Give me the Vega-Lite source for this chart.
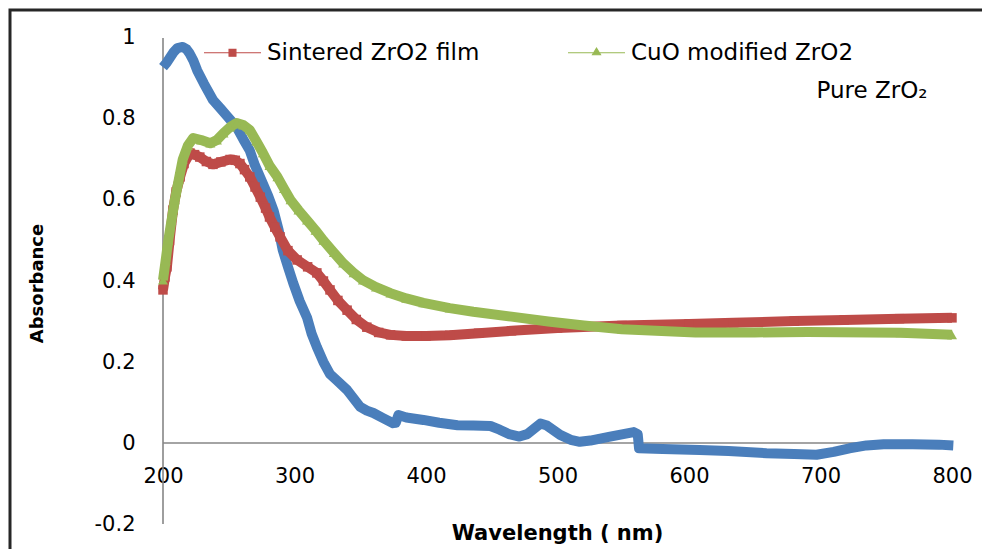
{
  "$schema": "https://vega.github.io/schema/vega-lite/v6.json",
  "width": 980,
  "height": 545,
  "autosize": {"type": "none"},
  "padding": {"left": 10, "top": 10, "right": 0, "bottom": 0},
  "background": "white",
  "config": {
    "view": {"stroke": "#262626", "strokeWidth": 3},
    "font": "DejaVu Sans",
    "legend": {
      "orient": "none",
      "legendX": 193,
      "legendY": 13,
      "direction": "horizontal",
      "columnPadding": 85,
      "symbolSize": 3249,
      "symbolStrokeWidth": 1.2,
      "labelOffset": 5,
      "labelFont": "DejaVu Sans",
      "labelFontSize": 23,
      "labelColor": "#000",
      "labelLimit": 400,
      "padding": 0,
      "title": null
    }
  },
  "datasets": {
    "spectra": [
      {"s": "Pure ZrO2", "wl": 200, "a": 0.928}, {"s": "Pure ZrO2", "wl": 203, "a": 0.94}, {"s": "Pure ZrO2", "wl": 205, "a": 0.95}, {"s": "Pure ZrO2", "wl": 208, "a": 0.965}, {"s": "Pure ZrO2", "wl": 211, "a": 0.975}, {"s": "Pure ZrO2", "wl": 215, "a": 0.978}, {"s": "Pure ZrO2", "wl": 218, "a": 0.972}, {"s": "Pure ZrO2", "wl": 220, "a": 0.963}, {"s": "Pure ZrO2", "wl": 223, "a": 0.945}, {"s": "Pure ZrO2", "wl": 226, "a": 0.92}, {"s": "Pure ZrO2", "wl": 231, "a": 0.888}, {"s": "Pure ZrO2", "wl": 238, "a": 0.847}, {"s": "Pure ZrO2", "wl": 244, "a": 0.825}, {"s": "Pure ZrO2", "wl": 249, "a": 0.806}, {"s": "Pure ZrO2", "wl": 256, "a": 0.78}, {"s": "Pure ZrO2", "wl": 261, "a": 0.75}, {"s": "Pure ZrO2", "wl": 266, "a": 0.722}, {"s": "Pure ZrO2", "wl": 270, "a": 0.685}, {"s": "Pure ZrO2", "wl": 276, "a": 0.64}, {"s": "Pure ZrO2", "wl": 280, "a": 0.61}, {"s": "Pure ZrO2", "wl": 284, "a": 0.575}, {"s": "Pure ZrO2", "wl": 288, "a": 0.525}, {"s": "Pure ZrO2", "wl": 291, "a": 0.477}, {"s": "Pure ZrO2", "wl": 295, "a": 0.435}, {"s": "Pure ZrO2", "wl": 299, "a": 0.395}, {"s": "Pure ZrO2", "wl": 304, "a": 0.35}, {"s": "Pure ZrO2", "wl": 309.5, "a": 0.31}, {"s": "Pure ZrO2", "wl": 313, "a": 0.27}, {"s": "Pure ZrO2", "wl": 317, "a": 0.237}, {"s": "Pure ZrO2", "wl": 322, "a": 0.2}, {"s": "Pure ZrO2", "wl": 327, "a": 0.17}, {"s": "Pure ZrO2", "wl": 333, "a": 0.152}, {"s": "Pure ZrO2", "wl": 340, "a": 0.131}, {"s": "Pure ZrO2", "wl": 345, "a": 0.11}, {"s": "Pure ZrO2", "wl": 350, "a": 0.089}, {"s": "Pure ZrO2", "wl": 355, "a": 0.08}, {"s": "Pure ZrO2", "wl": 360, "a": 0.074}, {"s": "Pure ZrO2", "wl": 367, "a": 0.062}, {"s": "Pure ZrO2", "wl": 375, "a": 0.049}, {"s": "Pure ZrO2", "wl": 377, "a": 0.05}, {"s": "Pure ZrO2", "wl": 379, "a": 0.069}, {"s": "Pure ZrO2", "wl": 385, "a": 0.063}, {"s": "Pure ZrO2", "wl": 398, "a": 0.057}, {"s": "Pure ZrO2", "wl": 410, "a": 0.05}, {"s": "Pure ZrO2", "wl": 424, "a": 0.044}, {"s": "Pure ZrO2", "wl": 436, "a": 0.043}, {"s": "Pure ZrO2", "wl": 449, "a": 0.042}, {"s": "Pure ZrO2", "wl": 456, "a": 0.033}, {"s": "Pure ZrO2", "wl": 463, "a": 0.022}, {"s": "Pure ZrO2", "wl": 471, "a": 0.016}, {"s": "Pure ZrO2", "wl": 477, "a": 0.022}, {"s": "Pure ZrO2", "wl": 482, "a": 0.035}, {"s": "Pure ZrO2", "wl": 487, "a": 0.048}, {"s": "Pure ZrO2", "wl": 492, "a": 0.043}, {"s": "Pure ZrO2", "wl": 502, "a": 0.02}, {"s": "Pure ZrO2", "wl": 510, "a": 0.008}, {"s": "Pure ZrO2", "wl": 517, "a": 0.003}, {"s": "Pure ZrO2", "wl": 525, "a": 0.006}, {"s": "Pure ZrO2", "wl": 540, "a": 0.016}, {"s": "Pure ZrO2", "wl": 550, "a": 0.022}, {"s": "Pure ZrO2", "wl": 558, "a": 0.027}, {"s": "Pure ZrO2", "wl": 561, "a": 0.022}, {"s": "Pure ZrO2", "wl": 562, "a": -0.013}, {"s": "Pure ZrO2", "wl": 580, "a": -0.015}, {"s": "Pure ZrO2", "wl": 608, "a": -0.017}, {"s": "Pure ZrO2", "wl": 630, "a": -0.02}, {"s": "Pure ZrO2", "wl": 659, "a": -0.025}, {"s": "Pure ZrO2", "wl": 680, "a": -0.027}, {"s": "Pure ZrO2", "wl": 697, "a": -0.029}, {"s": "Pure ZrO2", "wl": 710, "a": -0.022}, {"s": "Pure ZrO2", "wl": 722, "a": -0.013}, {"s": "Pure ZrO2", "wl": 735, "a": -0.006}, {"s": "Pure ZrO2", "wl": 748, "a": -0.003}, {"s": "Pure ZrO2", "wl": 770, "a": -0.003}, {"s": "Pure ZrO2", "wl": 790, "a": -0.004}, {"s": "Pure ZrO2", "wl": 801, "a": -0.006},

      {"s": "Sintered ZrO2 film", "wl": 200, "a": 0.378}, {"s": "Sintered ZrO2 film", "wl": 201.5, "a": 0.41}, {"s": "Sintered ZrO2 film", "wl": 203, "a": 0.435}, {"s": "Sintered ZrO2 film", "wl": 205, "a": 0.5}, {"s": "Sintered ZrO2 film", "wl": 207.6, "a": 0.575}, {"s": "Sintered ZrO2 film", "wl": 210, "a": 0.62}, {"s": "Sintered ZrO2 film", "wl": 213, "a": 0.657}, {"s": "Sintered ZrO2 film", "wl": 216, "a": 0.69}, {"s": "Sintered ZrO2 film", "wl": 220.5, "a": 0.716}, {"s": "Sintered ZrO2 film", "wl": 224, "a": 0.712}, {"s": "Sintered ZrO2 film", "wl": 228, "a": 0.706}, {"s": "Sintered ZrO2 film", "wl": 233, "a": 0.695}, {"s": "Sintered ZrO2 film", "wl": 238, "a": 0.688}, {"s": "Sintered ZrO2 film", "wl": 244, "a": 0.694}, {"s": "Sintered ZrO2 film", "wl": 251, "a": 0.7}, {"s": "Sintered ZrO2 film", "wl": 255, "a": 0.698}, {"s": "Sintered ZrO2 film", "wl": 258.5, "a": 0.69}, {"s": "Sintered ZrO2 film", "wl": 262, "a": 0.675}, {"s": "Sintered ZrO2 film", "wl": 266, "a": 0.657}, {"s": "Sintered ZrO2 film", "wl": 270, "a": 0.632}, {"s": "Sintered ZrO2 film", "wl": 274, "a": 0.607}, {"s": "Sintered ZrO2 film", "wl": 278, "a": 0.58}, {"s": "Sintered ZrO2 film", "wl": 281, "a": 0.558}, {"s": "Sintered ZrO2 film", "wl": 285, "a": 0.533}, {"s": "Sintered ZrO2 film", "wl": 289, "a": 0.509}, {"s": "Sintered ZrO2 film", "wl": 295, "a": 0.475}, {"s": "Sintered ZrO2 film", "wl": 302, "a": 0.452}, {"s": "Sintered ZrO2 film", "wl": 310, "a": 0.435}, {"s": "Sintered ZrO2 film", "wl": 317, "a": 0.42}, {"s": "Sintered ZrO2 film", "wl": 322, "a": 0.4}, {"s": "Sintered ZrO2 film", "wl": 327, "a": 0.378}, {"s": "Sintered ZrO2 film", "wl": 333, "a": 0.352}, {"s": "Sintered ZrO2 film", "wl": 340, "a": 0.328}, {"s": "Sintered ZrO2 film", "wl": 347, "a": 0.305}, {"s": "Sintered ZrO2 film", "wl": 355, "a": 0.286}, {"s": "Sintered ZrO2 film", "wl": 364, "a": 0.273}, {"s": "Sintered ZrO2 film", "wl": 373, "a": 0.267}, {"s": "Sintered ZrO2 film", "wl": 385, "a": 0.264}, {"s": "Sintered ZrO2 film", "wl": 400, "a": 0.264}, {"s": "Sintered ZrO2 film", "wl": 418, "a": 0.266}, {"s": "Sintered ZrO2 film", "wl": 440, "a": 0.271}, {"s": "Sintered ZrO2 film", "wl": 465, "a": 0.277}, {"s": "Sintered ZrO2 film", "wl": 500, "a": 0.284}, {"s": "Sintered ZrO2 film", "wl": 549, "a": 0.29}, {"s": "Sintered ZrO2 film", "wl": 600, "a": 0.294}, {"s": "Sintered ZrO2 film", "wl": 634, "a": 0.297}, {"s": "Sintered ZrO2 film", "wl": 680, "a": 0.301}, {"s": "Sintered ZrO2 film", "wl": 718, "a": 0.304}, {"s": "Sintered ZrO2 film", "wl": 760, "a": 0.307}, {"s": "Sintered ZrO2 film", "wl": 800, "a": 0.309},

      {"s": "CuO modified ZrO2", "wl": 200, "a": 0.402}, {"s": "CuO modified ZrO2", "wl": 202, "a": 0.45}, {"s": "CuO modified ZrO2", "wl": 204, "a": 0.5}, {"s": "CuO modified ZrO2", "wl": 206.5, "a": 0.55}, {"s": "CuO modified ZrO2", "wl": 209, "a": 0.6}, {"s": "CuO modified ZrO2", "wl": 212, "a": 0.65}, {"s": "CuO modified ZrO2", "wl": 215, "a": 0.7}, {"s": "CuO modified ZrO2", "wl": 219, "a": 0.735}, {"s": "CuO modified ZrO2", "wl": 223, "a": 0.753}, {"s": "CuO modified ZrO2", "wl": 229, "a": 0.748}, {"s": "CuO modified ZrO2", "wl": 236, "a": 0.74}, {"s": "CuO modified ZrO2", "wl": 241, "a": 0.748}, {"s": "CuO modified ZrO2", "wl": 246, "a": 0.765}, {"s": "CuO modified ZrO2", "wl": 251, "a": 0.78}, {"s": "CuO modified ZrO2", "wl": 256, "a": 0.79}, {"s": "CuO modified ZrO2", "wl": 261, "a": 0.785}, {"s": "CuO modified ZrO2", "wl": 266, "a": 0.773}, {"s": "CuO modified ZrO2", "wl": 271, "a": 0.745}, {"s": "CuO modified ZrO2", "wl": 276, "a": 0.716}, {"s": "CuO modified ZrO2", "wl": 281, "a": 0.685}, {"s": "CuO modified ZrO2", "wl": 287, "a": 0.657}, {"s": "CuO modified ZrO2", "wl": 292, "a": 0.628}, {"s": "CuO modified ZrO2", "wl": 297, "a": 0.6}, {"s": "CuO modified ZrO2", "wl": 303, "a": 0.575}, {"s": "CuO modified ZrO2", "wl": 309.5, "a": 0.55}, {"s": "CuO modified ZrO2", "wl": 316, "a": 0.525}, {"s": "CuO modified ZrO2", "wl": 322, "a": 0.5}, {"s": "CuO modified ZrO2", "wl": 330, "a": 0.47}, {"s": "CuO modified ZrO2", "wl": 337, "a": 0.444}, {"s": "CuO modified ZrO2", "wl": 345, "a": 0.42}, {"s": "CuO modified ZrO2", "wl": 352, "a": 0.402}, {"s": "CuO modified ZrO2", "wl": 362, "a": 0.385}, {"s": "CuO modified ZrO2", "wl": 373, "a": 0.37}, {"s": "CuO modified ZrO2", "wl": 385, "a": 0.357}, {"s": "CuO modified ZrO2", "wl": 398, "a": 0.346}, {"s": "CuO modified ZrO2", "wl": 418, "a": 0.333}, {"s": "CuO modified ZrO2", "wl": 436, "a": 0.324}, {"s": "CuO modified ZrO2", "wl": 465, "a": 0.312}, {"s": "CuO modified ZrO2", "wl": 493, "a": 0.3}, {"s": "CuO modified ZrO2", "wl": 520, "a": 0.29}, {"s": "CuO modified ZrO2", "wl": 549, "a": 0.281}, {"s": "CuO modified ZrO2", "wl": 605, "a": 0.273}, {"s": "CuO modified ZrO2", "wl": 650, "a": 0.273}, {"s": "CuO modified ZrO2", "wl": 690, "a": 0.274}, {"s": "CuO modified ZrO2", "wl": 761, "a": 0.272}, {"s": "CuO modified ZrO2", "wl": 800, "a": 0.267}
    ]
  },
  "data": {"name": "spectra"},
  "encoding": {
    "x": {
      "field": "wl", "type": "quantitative",
      "scale": {"domain": [83.65, 828.9], "nice": false, "zero": false},
      "axis": {
        "values": [200, 300, 400, 500, 600, 700, 800],
        "offset": -112, "domain": false, "ticks": false, "grid": false,
        "labelPadding": 22, "labelFontSize": 21, "labelFont": "DejaVu Sans", "labelColor": "#000",
        "labelFlush": false, "labelOverlap": false,
        "title": "Wavelength ( nm)", "titleFontSize": 21, "titleFontWeight": "bold", "titleFont": "DejaVu Sans",
        "titleColor": "#000", "titleX": 547, "titleY": 90, "titleAlign": "center", "titleBaseline": "middle"
      }
    },
    "y": {
      "field": "a", "type": "quantitative",
      "scale": {"domain": [-0.2765, 1.0691], "nice": false, "zero": false},
      "axis": {
        "values": [-0.2, 0, 0.2, 0.4, 0.6, 0.8, 1],
        "offset": -153, "domain": false, "ticks": false, "grid": false,
        "labelPadding": 28, "labelFontSize": 21, "labelFont": "DejaVu Sans", "labelColor": "#000",
        "labelBaseline": "middle", "labelExpr": "toString(datum.value)", "labelFlush": false, "labelOverlap": false,
        "title": "Absorbance", "titleFontSize": 18, "titleFontWeight": "bold", "titleFont": "DejaVu Sans",
        "titleColor": "#000", "titleAngle": -90, "titleX": -126, "titleY": 273, "titleAlign": "center", "titleBaseline": "middle"
      }
    },
    "color": {
      "field": "s", "type": "nominal",
      "scale": {"domain": ["Sintered ZrO2 film", "CuO modified ZrO2", "Pure ZrO2"], "range": ["#BE4B48", "#98B954", "#4A7EBB"]},
      "legend": {
        "values": ["Sintered ZrO2 film", "CuO modified ZrO2"],
        "encode": {
          "symbols": {
            "update": {
              "shape": {"signal": "datum.value === 'Sintered ZrO2 film' ? 'M-1,0H1M-0.12,-0.12H0.12V0.12H-0.12Z' : 'M-1,0H1M-0.14,0.07L0,-0.16L0.14,0.07Z'"},
              "fill": {"signal": "scale('color', datum.value)"},
              "stroke": {"signal": "scale('color', datum.value)"},
              "opacity": {"value": 1}
            }
          }
        }
      }
    }
  },
  "layer": [
    {
      "transform": [{"filter": "datum.s === 'Pure ZrO2' && datum.wl === 200"}],
      "mark": {"type": "rule", "color": "#868686", "strokeWidth": 1.6},
      "encoding": {"x": {"datum": 200}, "y": {"datum": -0.2}, "y2": {"datum": 1}, "color": {"value": "#868686"}}
    },
    {
      "transform": [{"filter": "datum.s === 'Pure ZrO2' && datum.wl === 200"}],
      "mark": {"type": "rule", "color": "#868686", "strokeWidth": 1.6},
      "encoding": {"x": {"datum": 200}, "x2": {"datum": 800}, "y": {"datum": 0}, "color": {"value": "#868686"}}
    },
    {
      "transform": [{"filter": "datum.s === 'Pure ZrO2'"}],
      "mark": {"type": "line", "strokeWidth": 10, "strokeJoin": "round"}
    },
    {
      "transform": [{"filter": "datum.s === 'Sintered ZrO2 film'"}],
      "mark": {"type": "line", "strokeWidth": 10, "strokeJoin": "round"}
    },
    {
      "transform": [{"filter": "datum.s === 'Sintered ZrO2 film'"}],
      "mark": {"type": "point", "shape": "square", "filled": true, "size": 90, "opacity": 1}
    },
    {
      "transform": [{"filter": "datum.s === 'CuO modified ZrO2'"}],
      "mark": {"type": "line", "strokeWidth": 10, "strokeJoin": "round"}
    },
    {
      "transform": [{"filter": "datum.s === 'CuO modified ZrO2'"}],
      "mark": {"type": "point", "shape": "triangle-up", "filled": true, "size": 100, "opacity": 1}
    },
    {
      "transform": [{"filter": "datum.s === 'Pure ZrO2' && datum.wl === 200"}],
      "mark": {"type": "text", "align": "left", "baseline": "alphabetic", "fontSize": 23, "font": "DejaVu Sans", "color": "#000"},
      "encoding": {"x": {"datum": 697}, "y": {"datum": 0.852}, "text": {"value": "Pure ZrO₂"}, "color": {"value": "#000"}}
    }
  ]
}
